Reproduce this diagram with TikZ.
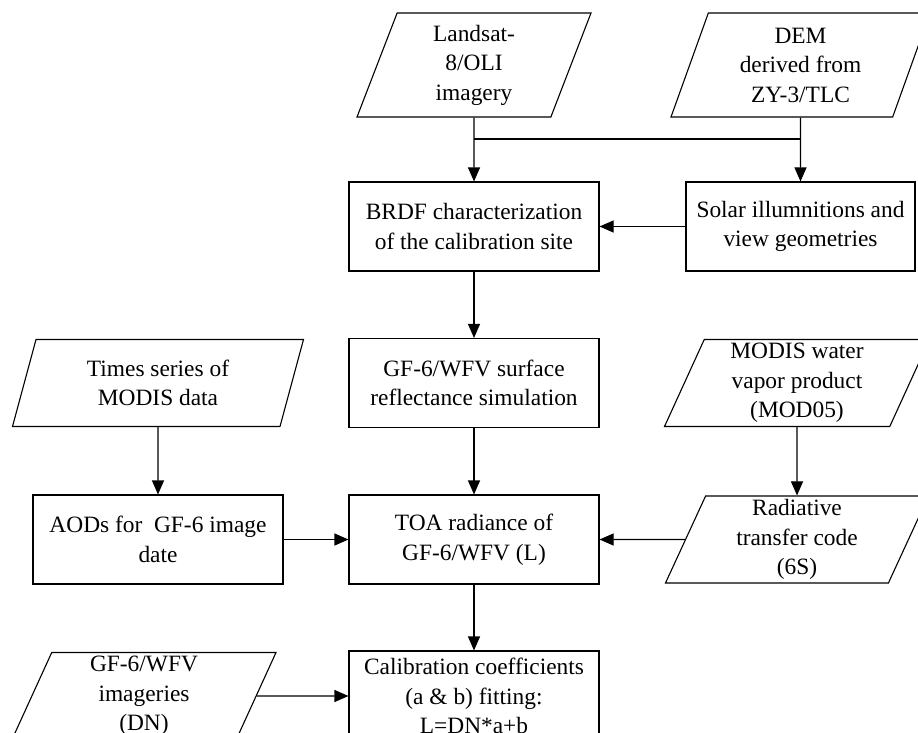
\documentclass[tikz,border=0pt]{standalone}
\usepackage{fontspec}
\setmainfont{Liberation Serif}
\usetikzlibrary{shapes.geometric, arrows.meta, positioning}
\tikzset{
->, % all connectors are directed
>={Triangle[length=14pt, width=12pt]}, % filled arrow heads
node distance=156.5pt, % distance between two rows of the chart
every node/.style={font=\fontsize{23.4pt}{29.5pt}\selectfont},
process/.style={draw, rectangle, minimum width=250pt, minimum height=89pt, align=center, inner sep=2pt}, % processing steps
dataio/.style={draw, trapezium, trapezium left angle=64, trapezium right angle=116, trapezium stretches body, minimum height=87pt, align=center, inner xsep=2pt, inner ysep=1pt}, % input data
}

\begin{document}
\begin{tikzpicture}[x=1pt, y=1pt, line width=1.1pt]
        \useasboundingbox (0,0) rectangle (918,-733);
        \clip (0,0) rectangle (918,-733);

        \node[process] (brdf) at (474,-226.5) {BRDF characterization\\of the calibration site};
        \node[process, below of=brdf] (surface) {GF-6/WFV surface\\reflectance simulation};
        \node[process, below of=surface] (toa) {TOA radiance of\\GF-6/WFV (L)};
        \node[process, below of=toa, minimum height=90pt] (calib) {Calibration coefficients\\(a \& b) fitting:\\L=DN*a+b};
        \node[process, minimum width=229pt, node distance=326.5pt, right of=brdf] (solar) {Solar illumnitions and\\view geometries};
        \node[process, node distance=316pt, left of=toa] (aod) {AODs for \ GF-6 image\\date};
        \node[dataio, minimum width=234pt, minimum height=104pt, node distance=161.5pt, above of=brdf] (landsat) {Landsat-\\8/OLI\\imagery};
        \node[dataio, minimum width=259pt, minimum height=104pt, node distance=161.5pt, above of=solar] (dem) {DEM\\derived from\\ZY-3/TLC};
        \node[dataio, minimum width=291pt, above of=aod] (times) {Times series of\\MODIS data};
        \node[dataio, minimum width=263pt, node distance=323pt, right of=toa] (radiative) {Radiative\\transfer code\\(6S)};
        \node[dataio, minimum width=265pt, above of=radiative] (modis) {MODIS water\\vapor product\\(MOD05)};
        \node[dataio, minimum width=264pt, node distance=330pt, left of=calib] (imageries) {GF-6/WFV\\imageries\\(DN)};
        \coordinate[node distance=74pt, below of=landsat] (jn);

        \draw (landsat) edge (brdf)
            (dem) edge (solar)
            (solar) edge (brdf)
            (brdf) edge (surface)
            (surface) edge (toa)
            (times) edge (aod)
            (aod) edge (toa)
            (modis) edge (radiative)
            (radiative) edge (toa)
            (toa) edge (calib)
            (imageries) edge (calib)
            ;
        \draw[-] (jn) -- (jn -| dem.south);
    \end{tikzpicture}
\end{document}
